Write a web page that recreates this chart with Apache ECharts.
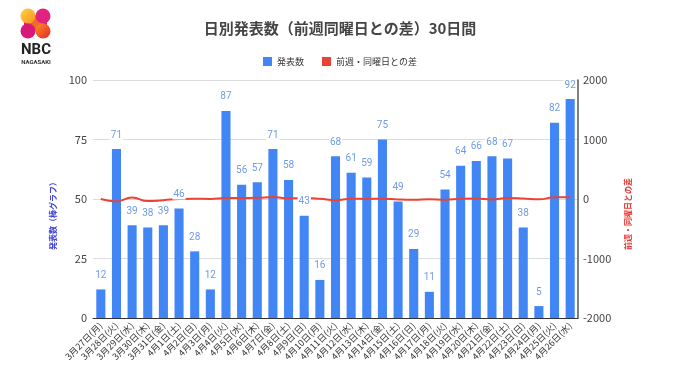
<!DOCTYPE html>
<html>
<head>
<meta charset="utf-8">
<script src="https://cdn.jsdelivr.net/npm/echarts@6/dist/echarts.min.js"></script>
<style>
html,body{margin:0;padding:0;background:#fff;}
#c{width:680px;height:382px;}
</style>
</head>
<body>
<div id="c"></div>
<script>
const categories = ["3月27日(月)","3月28日(火)","3月29日(水)","3月30日(木)","3月31日(金)","4月1日(土)","4月2日(日)","4月3日(月)","4月4日(火)","4月5日(水)","4月6日(木)","4月7日(金)","4月8日(土)","4月9日(日)","4月10日(月)","4月11日(火)","4月12日(水)","4月13日(木)","4月14日(金)","4月15日(土)","4月16日(日)","4月17日(月)","4月18日(火)","4月19日(水)","4月20日(木)","4月21日(金)","4月22日(土)","4月23日(日)","4月24日(月)","4月25日(火)","4月26日(水)"];
const counts = [12,71,39,38,39,46,28,12,87,56,57,71,58,43,16,68,61,59,75,49,29,11,54,64,66,68,67,38,5,82,92];
const diffs = [0,-40,25,-35,-20,0,5,0,16,17,19,32,12,15,4,-19,5,2,4,-9,-14,-5,-14,3,7,-7,18,9,-6,28,28];
const leftTicks = {min:0,max:100,interval:25};
const rightTicks = {min:-2000,max:2000,interval:1000};

const FONT = '"Noto Sans CJK JP","Noto Sans",sans-serif';
const chart = echarts.init(document.getElementById('c'), null, {renderer:'canvas'});
chart.setOption({
  backgroundColor:'#fff',
  textStyle:{fontFamily:FONT},
  animation:false,
  title:{
    text:'日別発表数（前週同曜日との差）30日間',
    left:'center', top:16,
    textStyle:{fontSize:15,fontWeight:'bold',color:'#444',fontFamily:FONT}
  },
  legend:{
    data:['発表数','前週・同曜日との差'],
    top:52, left:'center',
    itemWidth:9, itemHeight:9, itemGap:18,
    icon:'rect',
    textStyle:{fontSize:9,color:'#333',fontFamily:FONT}
  },
  grid:{left:93,right:102,top:80,bottom:64},
  xAxis:{
    type:'category',
    data:categories,
    axisLine:{show:true,lineStyle:{color:'#333',width:1}},
    axisTick:{show:false},
    axisLabel:{rotate:45,interval:0,fontSize:9,color:'#333',margin:6,fontFamily:FONT}
  },
  yAxis:[
    {
      type:'value', min:leftTicks.min, max:leftTicks.max, interval:leftTicks.interval,
      name:'発表数（棒グラフ）', nameLocation:'middle', nameGap:36, nameRotate:90,
      nameTextStyle:{color:'#3b3fdc',fontSize:8,fontWeight:'bold',fontFamily:FONT,padding:[0,30,0,0]},
      axisLine:{show:false}, axisTick:{show:false},
      axisLabel:{fontSize:11,color:'#444',margin:6},
      splitLine:{lineStyle:{color:'#dcdcdc'}}
    },
    {
      type:'value', min:rightTicks.min, max:rightTicks.max, interval:rightTicks.interval,
      name:'前週・同曜日との差', nameLocation:'middle', nameGap:46, nameRotate:90,
      nameTextStyle:{color:'#e53935',fontSize:8,fontWeight:'bold',fontFamily:FONT,padding:[0,30,0,0]},
      axisLine:{show:true,lineStyle:{color:'#555',width:1.5}}, axisTick:{show:false},
      axisLabel:{fontSize:11,color:'#444',margin:5,formatter:function(v){return String(v);}},
      splitLine:{show:false}
    }
  ],
  series:[
    {
      name:'発表数', type:'bar', yAxisIndex:0, data:counts,
      barCategoryGap:'42%',
      itemStyle:{color:'#4285f4'},
      z:2
    },
    {
      name:'前週・同曜日との差', type:'line', yAxisIndex:1, data:diffs,
      smooth:true, symbol:'none',
      lineStyle:{color:'#ea4335',width:2},
      itemStyle:{color:'#ea4335'},
      z:3
    },
    {
      name:'labels', type:'bar', yAxisIndex:0, data:counts,
      barCategoryGap:'42%', barGap:'-100%',
      itemStyle:{color:'rgba(0,0,0,0)'},
      silent:true,
      label:{show:true,position:'top',distance:9,fontSize:10,color:'#6f9be6',
        backgroundColor:'#fff',padding:[0,1],fontFamily:'Roboto,sans-serif'},
      z:4
    }
  ],
  graphic:[
    {type:'rect',shape:{x:24,y:16,width:8,height:15},style:{fill:'#e2227e'}},
    {type:'rect',shape:{x:39,y:16,width:8,height:15},style:{fill:'#e2227e'}},
    {type:'polygon',shape:{points:[[23,19],[32,12],[48,28],[39,35]]},style:{fill:'#f26a2a'}},
    {type:'circle',shape:{cx:28,cy:16,r:7.5},style:{fill:new echarts.graphic.LinearGradient(0,0,1,1,[{offset:0,color:'#ffd23f'},{offset:1,color:'#f7931e'}])}},
    {type:'circle',shape:{cx:43,cy:16,r:7.5},style:{fill:'#e2227e'}},
    {type:'circle',shape:{cx:28,cy:31,r:7.5},style:{fill:'#d9197a'}},
    {type:'circle',shape:{cx:43,cy:31,r:7.5},style:{fill:new echarts.graphic.LinearGradient(0,0,1,1,[{offset:0,color:'#f7931e'},{offset:1,color:'#e8222d'}])}},
    {type:'text',style:{text:'NBC',x:36,y:50,align:'center',verticalAlign:'middle',fontSize:15,fontWeight:'bold',fill:'#222',fontFamily:'Roboto,"DejaVu Sans",sans-serif'}},
    {type:'text',style:{text:'NAGASAKI',x:36,y:62,align:'center',verticalAlign:'middle',fontSize:6,fontWeight:'bold',fill:'#333',fontFamily:'Roboto,sans-serif'}}
  ]
});
</script>
</body>
</html>
